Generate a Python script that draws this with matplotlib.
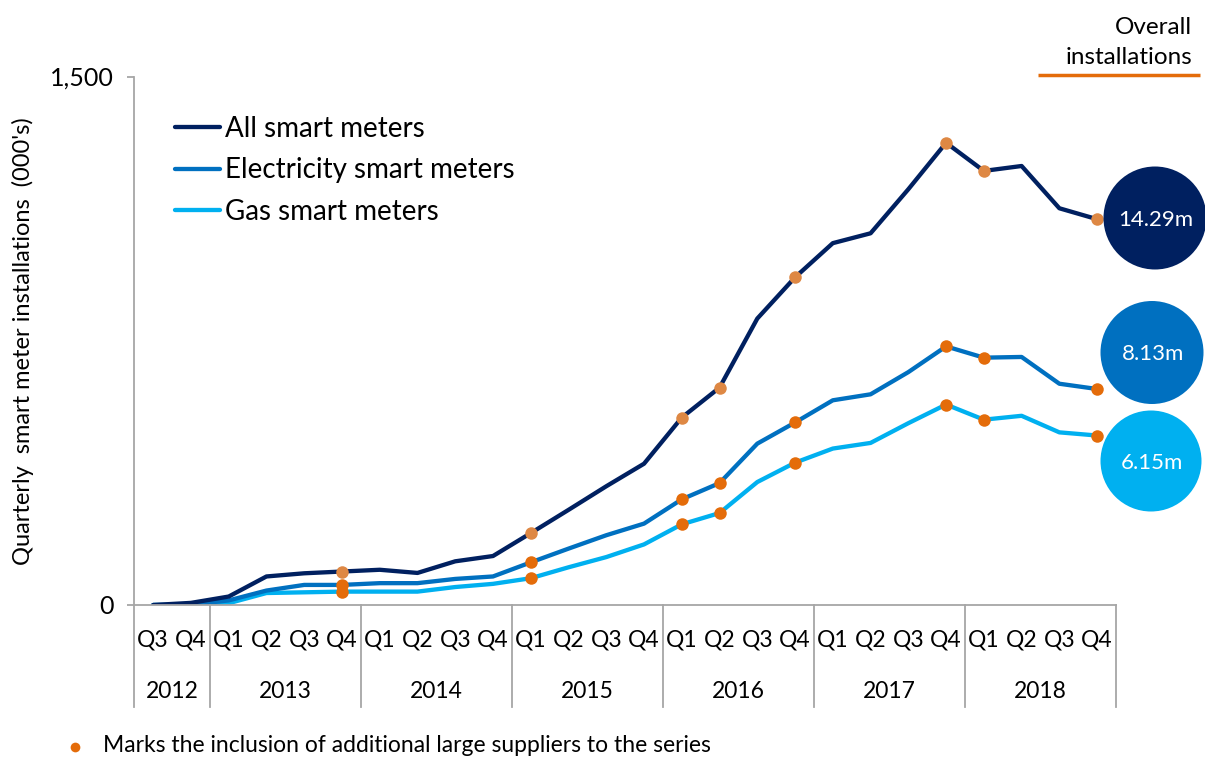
import matplotlib
matplotlib.use("Agg")
import matplotlib.pyplot as plt
import matplotlib.transforms as mtransforms
from matplotlib.patches import Circle

plt.rcParams['font.family'] = ['Lato', 'DejaVu Sans']

# ------------------------------
# Data (000's per quarter)
# ------------------------------
quarters = ['Q3', 'Q4',
            'Q1', 'Q2', 'Q3', 'Q4',
            'Q1', 'Q2', 'Q3', 'Q4',
            'Q1', 'Q2', 'Q3', 'Q4',
            'Q1', 'Q2', 'Q3', 'Q4',
            'Q1', 'Q2', 'Q3', 'Q4',
            'Q1', 'Q2', 'Q3', 'Q4']
years = ['2012', '2013', '2014', '2015', '2016', '2017', '2018']
quarters_per_year = [2, 4, 4, 4, 4, 4, 4]

all_meters = [0, 6, 24, 81, 90, 95, 100, 91, 124, 139, 204, 270, 337, 401,
              532, 617, 813, 930, 1027, 1055, 1180, 1312, 1232, 1246, 1126, 1095]
elec_meters = [0, 1, 13, 41, 57, 57, 62, 62, 74, 81, 121, 160, 198, 231,
               300, 346, 458, 518, 581, 598, 661, 734, 702, 704, 628, 613]
gas_meters = [0, 0, 5, 34, 36, 38, 38, 38, 51, 60, 76, 107, 136, 172,
              229, 261, 349, 404, 444, 460, 516, 569, 526, 537, 490, 481]

# quarters where additional large suppliers join the series
supplier_marks = [5, 10, 14, 15, 17, 21, 22, 25]

totals = ['14.29m', '8.13m', '6.15m']

NAVY = '#002060'
ELEC = '#0070C0'
GAS = '#00B0F0'
ORANGE = '#E46C0A'
ORANGE_LIGHT = '#DE8844'
GREY = '#A6A6A6'

# ------------------------------
# Figure
# ------------------------------
W, H = 1205, 758
fig = plt.figure(figsize=(W / 100, H / 100), dpi=100)
left, right, top, bottom = 134.3, 1116, 76.5, 605
ax = fig.add_axes([left / W, 1 - bottom / H, (right - left) / W, (bottom - top) / H])

x = list(range(len(quarters)))
series = [(all_meters, NAVY, ORANGE_LIGHT, 'All smart meters'),
          (elec_meters, ELEC, ORANGE, 'Electricity smart meters'),
          (gas_meters, GAS, ORANGE, 'Gas smart meters')]

for vals, col, mcol, lab in reversed(series):
    ax.plot(x, vals, color=col, lw=3.1, solid_capstyle='round', label=lab, zorder=2)
for vals, col, mcol, lab in series:
    ax.plot(supplier_marks, [vals[i] for i in supplier_marks], 'o', color=mcol,
            ms=9, mec='none', zorder=3)

ax.set_xlim(-0.5, len(quarters) - 0.5)
ax.set_ylim(0, 1500)

for s in ['top', 'right']:
    ax.spines[s].set_visible(False)
for s in ['left', 'bottom']:
    ax.spines[s].set_color(GREY)
    ax.spines[s].set_linewidth(1.3)

ax.set_yticks([0, 1500], ['0', '1,500'])
ax.tick_params(axis='y', length=5, width=1.3, color=GREY, labelsize=18, pad=10)
ax.set_xticks(x, quarters)
ax.tick_params(axis='x', length=0, labelsize=16.5, pad=18)

ax.set_ylabel("Quarterly  smart meter installations  (000's)", fontsize=17)
ax.yaxis.set_label_coords(-0.102, 0.5)

# year labels and separators under the axis
trans = mtransforms.blended_transform_factory(ax.transData, ax.transAxes)
sep_bottom = -(706.7 - bottom) / (bottom - top)
year_y = -(691.7 - bottom) / (bottom - top)
start = -0.5
ax.plot([start, start], [0, sep_bottom], color=GREY, lw=1.3, transform=trans, clip_on=False)
for yr, n in zip(years, quarters_per_year):
    end = start + n
    ax.plot([end, end], [0, sep_bottom], color=GREY, lw=1.3, transform=trans, clip_on=False)
    ax.text((start + end) / 2, year_y, yr, transform=trans, ha='center', va='center',
            fontsize=16.5)
    start = end

# legend
handles, labels = ax.get_legend_handles_labels()
ax.legend(handles[::-1], labels[::-1], loc='upper left', frameon=False,
          bbox_to_anchor=((175 - left) / (right - left), (bottom - 116) / (bottom - top)),
          borderaxespad=0, borderpad=0, fontsize=20, handlelength=1.62,
          handletextpad=0.18, labelspacing=0.55)

# ------------------------------
# Overlay: totals bubbles, header, footnote (pixel coords)
# ------------------------------
ov = fig.add_axes([0, 0, 1, 1], facecolor='none')
ov.set_xlim(0, W)
ov.set_ylim(H, 0)
ov.axis('off')

bubbles = [(1155, 218, 51.5, NAVY), (1152, 352.5, 51.5, ELEC), (1151, 461, 50.5, GAS)]
for (cx, cy, r, col), txt in zip(bubbles, totals):
    ov.add_patch(Circle((cx, cy), r, color=col, ec='none'))
    ov.text(cx + 1, cy + 2, txt, color='white', ha='center', va='center', fontsize=16)

ov.text(1192, 27, 'Overall', ha='right', va='center', fontsize=17.5)
ov.text(1192, 58, 'installations', ha='right', va='center', fontsize=17.5)
ov.plot([1038, 1200], [75, 75], color=ORANGE, lw=2.5, solid_capstyle='butt')

ov.plot([75], [747], 'o', color=ORANGE, ms=7, mec='none')
ov.text(103, 746, 'Marks the inclusion of additional large suppliers to the series',
        ha='left', va='center', fontsize=16.5)

fig.savefig('out.png', dpi=100)
